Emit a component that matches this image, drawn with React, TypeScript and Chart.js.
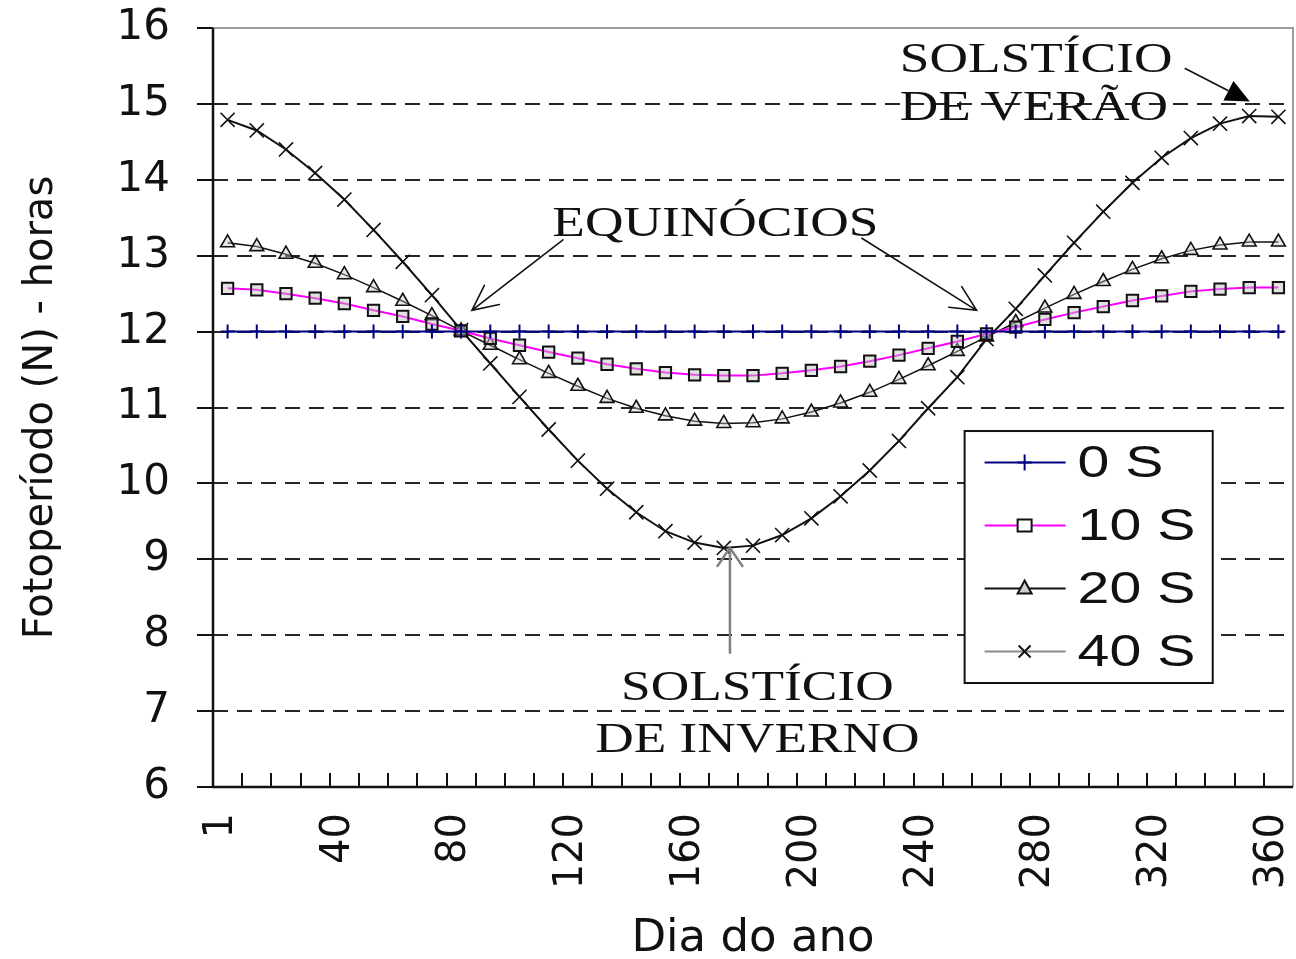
import React, { useEffect, useRef } from 'react';
import { Chart, registerables } from 'chart.js';

Chart.register(...registerables);

// ---- data ----
const days = [1, 10, 20, 30, 40, 50, 60, 70, 80, 90, 100, 110, 120, 130, 140, 150, 160, 170, 180, 190, 200, 210, 220, 230, 240, 250, 260, 270, 280, 290, 300, 310, 320, 330, 340, 350, 360];
const shownDayLabels = [1, 40, 80, 120, 160, 200, 240, 280, 320, 360];
const seriesNames = ['0 S', '10 S', '20 S', '40 S'];

const lat0S = [12, 12, 12, 12, 12, 12, 12, 12, 12, 12, 12, 12, 12, 12, 12, 12, 12, 12, 12, 12, 12, 12, 12, 12, 12, 12, 12, 12, 12, 12, 12, 12, 12, 12, 12, 12, 12];
const lat10S = [12.57, 12.55, 12.5, 12.44, 12.37, 12.28, 12.2, 12.1, 12.01, 11.91, 11.82, 11.73, 11.65, 11.57, 11.51, 11.46, 11.43, 11.42, 11.42, 11.45, 11.49, 11.54, 11.61, 11.69, 11.78, 11.87, 11.97, 12.06, 12.16, 12.25, 12.33, 12.41, 12.47, 12.53, 12.56, 12.58, 12.58];
const lat20S = [13.17, 13.12, 13.02, 12.9, 12.75, 12.58, 12.4, 12.21, 12.01, 11.82, 11.63, 11.45, 11.28, 11.12, 10.99, 10.89, 10.82, 10.79, 10.8, 10.85, 10.94, 11.06, 11.2, 11.37, 11.55, 11.74, 11.93, 12.12, 12.31, 12.49, 12.66, 12.82, 12.96, 13.07, 13.14, 13.18, 13.18];
const lat40S = [14.79, 14.65, 14.4, 14.09, 13.74, 13.34, 12.92, 12.48, 12.02, 11.58, 11.14, 10.71, 10.3, 9.93, 9.62, 9.37, 9.22, 9.15, 9.18, 9.32, 9.54, 9.83, 10.17, 10.56, 10.99, 11.4, 11.9, 12.3, 12.74, 13.17, 13.58, 13.96, 14.29, 14.55, 14.74, 14.84, 14.83];

const yMin = 6;
const yMax = 16;

// ---- styling helpers ----
const SERIF = '"Liberation Serif", "Times New Roman", serif';
const SANS = '"Liberation Sans", Arial, sans-serif';
const TICK_FONT = 'DejaVu Sans';

function stretchedText(ctx: CanvasRenderingContext2D, text: string, x: number, y: number, align: CanvasTextAlign, font: string, sx: number, baseline: CanvasTextBaseline = 'alphabetic') {
  ctx.save();
  ctx.translate(x, y);
  ctx.scale(sx, 1);
  ctx.font = font;
  ctx.fillStyle = '#111';
  ctx.textAlign = align;
  ctx.textBaseline = baseline;
  ctx.fillText(text, 0, 0);
  ctx.restore();
}

function openArrow(ctx: CanvasRenderingContext2D, x1: number, y1: number, x2: number, y2: number, color: string, width: number, head: number, spread: number) {
  ctx.save();
  ctx.strokeStyle = color;
  ctx.lineWidth = width;
  ctx.lineCap = 'round';
  ctx.beginPath();
  ctx.moveTo(x1, y1);
  ctx.lineTo(x2, y2);
  const a = Math.atan2(y1 - y2, x1 - x2);
  ctx.moveTo(x2 + head * Math.cos(a - spread), y2 + head * Math.sin(a - spread));
  ctx.lineTo(x2, y2);
  ctx.lineTo(x2 + head * Math.cos(a + spread), y2 + head * Math.sin(a + spread));
  ctx.stroke();
  ctx.restore();
}

function filledArrow(ctx: CanvasRenderingContext2D, x1: number, y1: number, x2: number, y2: number, width: number, head: number, half: number) {
  const a = Math.atan2(y2 - y1, x2 - x1);
  const bx = x2 - head * Math.cos(a);
  const by = y2 - head * Math.sin(a);
  ctx.save();
  ctx.strokeStyle = '#111';
  ctx.fillStyle = '#000';
  ctx.lineWidth = width;
  ctx.beginPath();
  ctx.moveTo(x1, y1);
  ctx.lineTo(bx, by);
  ctx.stroke();
  ctx.beginPath();
  ctx.moveTo(x2, y2);
  ctx.lineTo(bx + half * Math.sin(a), by - half * Math.cos(a));
  ctx.lineTo(bx - half * Math.sin(a), by + half * Math.cos(a));
  ctx.closePath();
  ctx.fill();
  ctx.restore();
}

function drawMarker(ctx: CanvasRenderingContext2D, style: string, x: number, y: number, color: string, fill: string) {
  ctx.save();
  ctx.strokeStyle = color;
  ctx.fillStyle = fill;
  ctx.lineWidth = 2;
  ctx.beginPath();
  if (style === 'cross') {
    ctx.moveTo(x, y - 8); ctx.lineTo(x, y + 8);
    ctx.moveTo(x - 7, y); ctx.lineTo(x + 7, y);
    ctx.stroke();
  } else if (style === 'rect') {
    ctx.rect(x - 7, y - 6, 14, 12);
    ctx.fill(); ctx.stroke();
  } else if (style === 'triangle') {
    ctx.moveTo(x, y - 8); ctx.lineTo(x + 7, y + 5); ctx.lineTo(x - 7, y + 5); ctx.closePath();
    ctx.fill(); ctx.stroke();
  } else {
    ctx.moveTo(x - 6, y - 6); ctx.lineTo(x + 6, y + 6);
    ctx.moveTo(x + 6, y - 6); ctx.lineTo(x - 6, y + 6);
    ctx.stroke();
  }
  ctx.restore();
}

const legendLineColors = ['#000080', '#ff00ff', '#111111', '#8a8a8a'];
const legendStyles = ['cross', 'rect', 'triangle', 'crossRot'];
const legendMarkerColors = ['#000080', '#111111', '#111111', '#111111'];
const legendMarkerFills = ['#000080', '#ffffff', '#cfcfcf', '#111111'];

const framePlugin = {
  id: 'framePlugin',
  beforeDatasetsDraw(chart: any) {
    const { ctx, chartArea, scales } = chart;
    const xs = scales.x;
    ctx.save();
    // gray top & right frame
    ctx.strokeStyle = '#9c9c9c';
    ctx.lineWidth = 2;
    ctx.beginPath();
    ctx.moveTo(chartArea.left, chartArea.top);
    ctx.lineTo(chartArea.right, chartArea.top);
    ctx.lineTo(chartArea.right, chartArea.bottom);
    ctx.stroke();
    // inner tick marks on the x axis (between categories)
    ctx.strokeStyle = '#111';
    ctx.lineWidth = 2;
    ctx.beginPath();
    for (let i = 1; i < days.length; i++) {
      const bx = Math.round((xs.getPixelForValue(i - 1) + xs.getPixelForValue(i)) / 2);
      ctx.moveTo(bx, chartArea.bottom);
      ctx.lineTo(bx, chartArea.bottom - 14);
    }
    ctx.stroke();
    // axes
    ctx.strokeStyle = '#111';
    ctx.lineWidth = 2.5;
    ctx.beginPath();
    ctx.moveTo(chartArea.left, chartArea.top);
    ctx.lineTo(chartArea.left, chartArea.bottom);
    ctx.lineTo(chartArea.right, chartArea.bottom);
    ctx.stroke();
    ctx.restore();
  },
  afterDatasetsDraw(chart: any) {
    const { ctx, scales } = chart;
    const xs = scales.x;
    const ys = scales.y;
    const X = (i: number) => xs.getPixelForValue(i);
    const Y = (v: number) => ys.getPixelForValue(v);
    const serifFont = `42px ${SERIF}`;
    const sx = 1.27;

    // Equinoxes
    stretchedText(ctx, 'EQUINÓCIOS', X(16.71), Y(13.26), 'center', serifFont, sx);
    openArrow(ctx, X(11.49), Y(13.21), X(8.37), Y(12.28), '#111', 1.6, 28, 0.45);
    openArrow(ctx, X(21.73), Y(13.23), X(25.66), Y(12.28), '#111', 1.6, 28, 0.45);

    // Summer solstice
    stretchedText(ctx, 'SOLSTÍCIO', X(23.03), Y(15.42), 'left', serifFont, sx);
    stretchedText(ctx, 'DE VERÃO', X(23.03), Y(14.79), 'left', serifFont, sx);
    filledArrow(ctx, X(32.79), Y(15.47), X(35.02), Y(15.03), 1.6, 24, 11);

    // Winter solstice
    openArrow(ctx, X(17.21), Y(7.77), X(17.21), Y(9.15), '#808080', 2.5, 22, 0.6);
    stretchedText(ctx, 'SOLSTÍCIO', X(18.15), Y(7.15), 'center', serifFont, sx);
    stretchedText(ctx, 'DE INVERNO', X(18.15), Y(6.46), 'center', serifFont, sx);

    // Legend box
    const lx = X(25.25);
    const rx = X(33.75);
    const ty = Y(10.69);
    const by = Y(7.37);
    ctx.save();
    ctx.fillStyle = '#ffffff';
    ctx.strokeStyle = '#111';
    ctx.lineWidth = 2;
    ctx.fillRect(lx, ty, rx - lx, by - ty);
    ctx.strokeRect(lx, ty, rx - lx, by - ty);
    ctx.restore();
    const rowH = (by - ty) / 4;
    chart.data.datasets.forEach((ds: any, i: number) => {
      const cy = ty + rowH * (i + 0.5);
      ctx.save();
      ctx.strokeStyle = legendLineColors[i];
      ctx.lineWidth = 2;
      ctx.beginPath();
      ctx.moveTo(lx + 20, cy);
      ctx.lineTo(lx + 101, cy);
      ctx.stroke();
      ctx.restore();
      drawMarker(ctx, legendStyles[i], lx + 60, cy, legendMarkerColors[i], legendMarkerFills[i]);
      stretchedText(ctx, ds.label, lx + 113, cy + 2, 'left', `44px ${SANS}`, 1.3, 'middle');
    });
  },
};

export default function App() {
  const canvasRef = useRef<HTMLCanvasElement | null>(null);

  useEffect(() => {
    const canvas = canvasRef.current;
    if (!canvas) return;
    const chart = new Chart(canvas, {
      type: 'line',
      data: {
        labels: days.map(String),
        datasets: [
          {
            label: seriesNames[0], data: lat0S, borderColor: '#000080', borderWidth: 2,
            pointStyle: 'cross', pointRadius: 7, pointBorderColor: '#000080', pointBorderWidth: 2,
            pointBackgroundColor: '#000080', tension: 0,
          },
          {
            label: seriesNames[1], data: lat10S, borderColor: '#ff00ff', borderWidth: 2,
            pointStyle: 'rect', pointRadius: 8, pointBorderColor: '#111', pointBorderWidth: 2,
            pointBackgroundColor: 'rgba(190,190,190,0.45)', tension: 0,
          },
          {
            label: seriesNames[2], data: lat20S, borderColor: '#111', borderWidth: 1.5,
            pointStyle: 'triangle', pointRadius: 8, pointBorderColor: '#111', pointBorderWidth: 1.6,
            pointBackgroundColor: 'rgba(200,200,200,0.4)', tension: 0,
          },
          {
            label: seriesNames[3], data: lat40S, borderColor: '#111', borderWidth: 2,
            pointStyle: 'crossRot', pointRadius: 10, pointBorderColor: '#111', pointBorderWidth: 1.6,
            tension: 0,
          },
        ],
      },
      options: {
        animation: false,
        responsive: false,
        maintainAspectRatio: false,
        events: [],
        layout: { autoPadding: false, padding: { top: 28, right: 3, bottom: 0, left: 0 } },
        plugins: { legend: { display: false }, tooltip: { enabled: false } },
        scales: {
          x: {
            type: 'category',
            offset: true,
            grid: { display: false, drawTicks: false, offset: true },
            border: { display: false },
            ticks: {
              autoSkip: false,
              maxRotation: 90,
              minRotation: 90,
              padding: 26,
              labelOffset: -6,
              color: '#111',
              font: { family: TICK_FONT, size: 40 },
              callback: (_v: any, index: number) => (shownDayLabels.includes(days[index]) ? String(days[index]) : ''),
            },
            title: {
              display: true,
              text: 'Dia do ano',
              color: '#111',
              font: { family: TICK_FONT, size: 45, lineHeight: 1 },
              padding: { top: 0, bottom: -3 },
            },
            afterFit: (s: any) => { s.height = 172; s.paddingLeft = 0; s.paddingRight = 0; },
          },
          y: {
            min: yMin,
            max: yMax,
            ticks: { stepSize: 1, padding: 27, color: '#111', font: { family: TICK_FONT, size: 42 } },
            grid: {
              color: (c: any) => (c.tick && (c.tick.value === yMin || c.tick.value === yMax) ? 'rgba(0,0,0,0)' : '#262626'),
              lineWidth: 2,
              tickColor: '#111',
              tickLength: 16,
              tickWidth: 2,
              tickBorderDash: [],
            },
            border: { display: false, dash: [15, 9] },
            title: {
              display: true,
              text: 'Fotoperíodo (N) - horas',
              color: '#111',
              font: { family: TICK_FONT, size: 40 },
              padding: { top: 18, bottom: 0 },
            },
            afterFit: (s: any) => { s.width = 213; s.paddingTop = 0; s.paddingBottom = 0; },
          },
        },
      },
      plugins: [framePlugin],
    } as any);
    return () => chart.destroy();
  }, []);

  return (
    <div style={{ position: 'fixed', left: 0, top: 0, width: 1296, height: 959, background: '#ffffff' }}>
      <canvas ref={canvasRef} width={1296} height={959} style={{ display: 'block' }} />
    </div>
  );
}
